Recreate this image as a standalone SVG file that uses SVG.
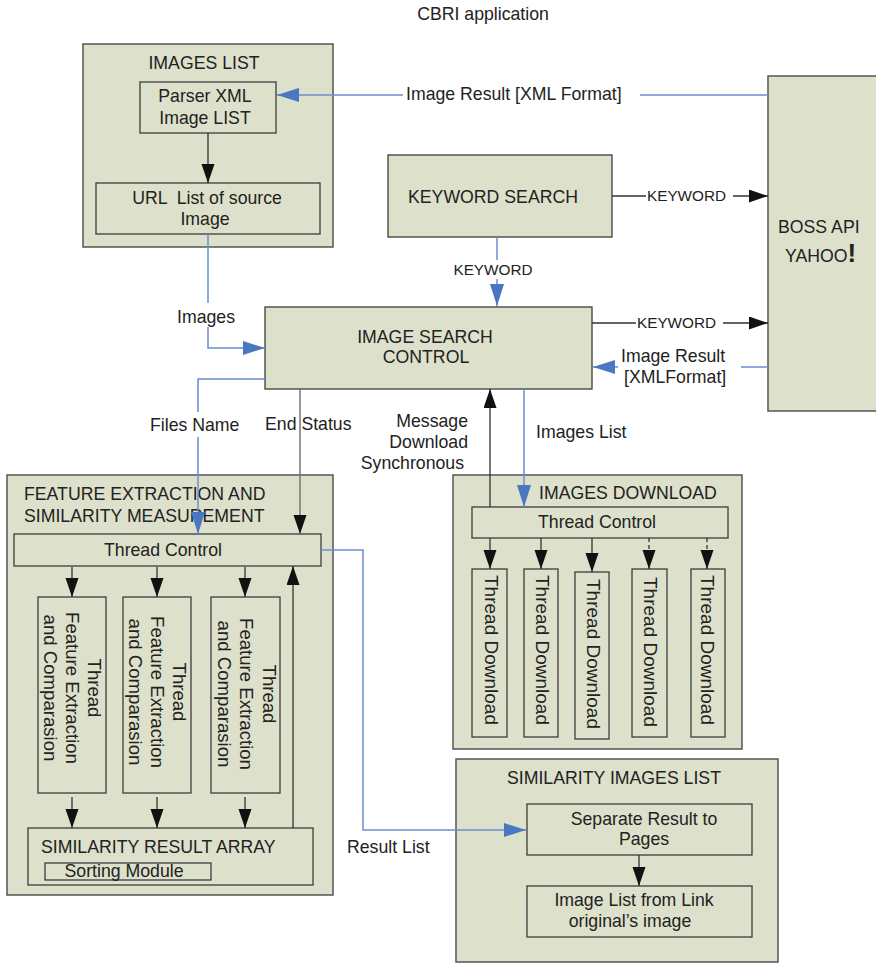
<svg xmlns="http://www.w3.org/2000/svg" width="876" height="964" viewBox="0 0 876 964">
<defs>
<style>
text{font-family:"Liberation Sans",Arial,Helvetica,sans-serif;fill:#222;font-size:17.7px}
.c{text-anchor:middle}
.s{font-size:15.3px}
.rot{font-size:18.6px;text-anchor:middle}
.box{fill:#dde0ca;stroke:#3c3c3c;stroke-width:1.3}
.outer{fill:#dde0ca;stroke:#555;stroke-width:1.5}
.k{fill:none;stroke:#333;stroke-width:1.3}
.g{fill:none;stroke:#777;stroke-width:1.5}
.b{fill:none;stroke:#6a8fd0;stroke-width:1.5}
.d{stroke-dasharray:4 3}
</style>
<marker id="ak" markerUnits="userSpaceOnUse" markerWidth="20" markerHeight="14" refX="19" refY="6.5" orient="auto">
<path d="M0,0 L19,6.5 L0,13 z" fill="#111"/>
</marker>
<marker id="ab" markerUnits="userSpaceOnUse" markerWidth="23" markerHeight="15" refX="22" refY="7" orient="auto">
<path d="M0,0 L22,7 L0,14 z" fill="#4a78c0"/>
</marker>
</defs>
<rect width="876" height="964" fill="#fff"/>
<text x="483" y="20" class="c">CBRI application</text>

<g id="images-list">
<rect class="outer" x="83" y="44" width="250" height="203"/>
<text x="204" y="69" class="c">IMAGES LIST</text>
</g>
<g id="parser-xml">
<rect class="box" x="140" y="82" width="136" height="51"/>
<text x="205" y="102" class="c">Parser XML</text>
<text x="205" y="124" class="c">Image LIST</text>
</g>
<g id="url-list">
<rect class="box" x="96" y="183" width="224" height="51"/>
<text x="207" y="204" class="c" xml:space="preserve">URL  List of source</text>
<text x="205" y="225" class="c">Image</text>
</g>

<g id="keyword-search">
<rect class="box" x="388" y="155" width="224" height="82"/>
<text x="408" y="203">KEYWORD SEARCH</text>
</g>

<g id="boss-api">
<rect class="outer" x="768" y="76" width="120" height="335"/>
<text x="778" y="233" font-size="18.5">BOSS API</text>
<text x="785" y="262" font-size="18">YAHOO<tspan font-size="26" font-weight="bold">!</tspan></text>
</g>

<g id="image-search-control">
<rect class="box" x="265" y="307" width="327" height="82"/>
<text x="425" y="343" class="c">IMAGE SEARCH</text>
<text x="426" y="363" class="c">CONTROL</text>
</g>

<g id="feature-extraction">
<rect class="outer" x="7" y="475" width="326" height="420"/>
<text x="24" y="500">FEATURE EXTRACTION AND</text>
<text x="24" y="522">SIMILARITY MEASUREMENT</text>
</g>
<g id="fe-thread-control">
<rect class="box" x="14" y="534" width="307" height="32"/>
<text x="163" y="556" class="c">Thread Control</text>
</g>
<g id="fe-thread-1">
<rect class="box" x="38" y="597" width="68" height="196"/>
<g transform="translate(72,688) rotate(90)">
<text x="0" y="-16" class="rot">Thread</text>
<text x="0" y="6" class="rot">Feature Extraction</text>
<text x="0" y="28" class="rot">and Comparasion</text>
</g>
</g>
<g id="fe-thread-2">
<rect class="box" x="123" y="597" width="68" height="196"/>
<g transform="translate(157,692) rotate(90)">
<text x="0" y="-16" class="rot">Thread</text>
<text x="0" y="6" class="rot">Feature Extraction</text>
<text x="0" y="28" class="rot">and Comparasion</text>
</g>
</g>
<g id="fe-thread-3">
<rect class="box" x="211" y="597" width="69" height="196"/>
<g transform="translate(246,694) rotate(90)">
<text x="0" y="-17" class="rot">Thread</text>
<text x="0" y="6" class="rot">Feature Extraction</text>
<text x="0" y="28" class="rot">and Comparasion</text>
</g>
</g>
<g id="similarity-result-array">
<rect class="box" x="28" y="828" width="285" height="57"/>
<text x="41" y="853">SIMILARITY RESULT ARRAY</text>
</g>
<g id="sorting-module">
<rect class="box" x="45" y="863" width="166" height="17"/>
<text x="124" y="877" class="c">Sorting Module</text>
</g>

<g id="images-download">
<rect class="outer" x="453" y="475" width="289" height="274"/>
<text x="539" y="499">IMAGES DOWNLOAD</text>
</g>
<g id="dl-thread-control">
<rect class="box" x="472" y="507" width="256" height="31"/>
<text x="597" y="528" class="c">Thread Control</text>
</g>
<g id="dl-thread-1">
<rect class="box" x="472" y="569" width="35" height="168"/>
<text transform="translate(489.5,650) rotate(90)" x="0" y="4.5" class="rot" textLength="150" lengthAdjust="spacingAndGlyphs">Thread Download</text>
</g>
<g id="dl-thread-2">
<rect class="box" x="524" y="569" width="34" height="168"/>
<text transform="translate(541,650) rotate(90)" x="0" y="5" class="rot" textLength="150" lengthAdjust="spacingAndGlyphs">Thread Download</text>
</g>
<g id="dl-thread-3">
<rect class="box" x="575" y="572" width="34" height="167"/>
<text transform="translate(592,654) rotate(90)" x="0" y="5" class="rot" textLength="150" lengthAdjust="spacingAndGlyphs">Thread Download</text>
</g>
<g id="dl-thread-4">
<rect class="box" x="632" y="569" width="35" height="168"/>
<text transform="translate(649.5,652) rotate(90)" x="0" y="5.5" class="rot" textLength="150" lengthAdjust="spacingAndGlyphs">Thread Download</text>
</g>
<g id="dl-thread-5">
<rect class="box" x="691" y="569" width="34" height="168"/>
<text transform="translate(708,650) rotate(90)" x="0" y="7" class="rot" textLength="150" lengthAdjust="spacingAndGlyphs">Thread Download</text>
</g>

<g id="similarity-images-list">
<rect class="outer" x="456" y="759" width="322" height="203"/>
<text x="507" y="784">SIMILARITY IMAGES LIST</text>
</g>
<g id="separate-result">
<rect class="box" x="527" y="804" width="225" height="51"/>
<text x="644" y="825" class="c">Separate Result to</text>
<text x="644" y="845" class="c">Pages</text>
</g>
<g id="image-list-link">
<rect class="box" x="527" y="886" width="225" height="51"/>
<text x="634" y="906" class="c">Image List from Link</text>
<text x="630" y="927" class="c">original’s image</text>
</g>

<g id="connectors">
<!-- Images list internal -->
<line class="k" x1="208" y1="133" x2="208" y2="183" marker-end="url(#ak)"/>
<!-- Image Result XML top -->
<line class="b" x1="768" y1="95" x2="640" y2="95"/>
<line class="b" x1="403" y1="95" x2="277" y2="95" marker-end="url(#ab)"/>
<text x="406" y="100">Image Result [XML Format]</text>
<!-- KEYWORD search -> BOSS -->
<line class="k" x1="612" y1="196" x2="646" y2="196"/>
<line class="k" x1="733" y1="196" x2="768" y2="196" marker-end="url(#ak)"/>
<text x="647" y="201" class="s">KEYWORD</text>
<!-- KEYWORD search -> ISC -->
<line class="b" x1="497" y1="237" x2="497" y2="260"/>
<line class="b" x1="497" y1="279" x2="497" y2="306" marker-end="url(#ab)"/>
<text x="493" y="275" class="s c">KEYWORD</text>
<!-- ISC -> BOSS keyword -->
<line class="k" x1="592" y1="323" x2="636" y2="323"/>
<line class="k" x1="723" y1="323" x2="768" y2="323" marker-end="url(#ak)"/>
<text x="637" y="328" class="s">KEYWORD</text>
<!-- BOSS -> ISC image result -->
<line class="b" x1="768" y1="367" x2="741" y2="367"/>
<line class="b" x1="618" y1="367" x2="593" y2="367" marker-end="url(#ab)"/>
<text x="621" y="362">Image Result</text>
<text x="624" y="383">[XMLFormat]</text>
<!-- Images: URL list -> ISC -->
<polyline class="b" points="208,234 208,303"/>
<polyline class="b" points="208,327 208,348 265,348" marker-end="url(#ab)"/>
<text x="177" y="323">Images</text>
<!-- Files Name -->
<polyline class="b" points="265,379 198,379 198,412"/>
<line class="b" x1="198" y1="437" x2="198" y2="534" marker-end="url(#ab)"/>
<text x="150" y="431">Files Name</text>
<!-- End Status -->
<line class="g" x1="300" y1="389" x2="300" y2="534" marker-end="url(#ak)"/>
<text x="265" y="430">End Status</text>
<!-- Message download synchronous -->
<line class="k" x1="490" y1="507" x2="490" y2="389" marker-end="url(#ak)"/>
<text x="468" y="427" text-anchor="end">Message</text>
<text x="468" y="448" text-anchor="end">Download</text>
<text x="464" y="469" text-anchor="end">Synchronous</text>
<!-- Images List -->
<line class="b" x1="524" y1="389" x2="524" y2="507" marker-end="url(#ab)"/>
<text x="536" y="438">Images List</text>
<!-- Download thread arrows -->
<line class="k" x1="490" y1="538" x2="490" y2="569" marker-end="url(#ak)"/>
<line class="k" x1="541" y1="538" x2="541" y2="569" marker-end="url(#ak)"/>
<line class="k" x1="592" y1="538" x2="592" y2="572" marker-end="url(#ak)"/>
<line class="k d" x1="649" y1="538" x2="649" y2="569" marker-end="url(#ak)"/>
<line class="k d" x1="707" y1="538" x2="707" y2="569" marker-end="url(#ak)"/>
<!-- Feature thread arrows -->
<line class="k" x1="72" y1="567" x2="72" y2="597" marker-end="url(#ak)"/>
<line class="k" x1="157" y1="567" x2="157" y2="597" marker-end="url(#ak)"/>
<line class="k" x1="245" y1="567" x2="245" y2="597" marker-end="url(#ak)"/>
<line class="k" x1="72" y1="797" x2="72" y2="828" marker-end="url(#ak)"/>
<line class="k" x1="157" y1="797" x2="157" y2="828" marker-end="url(#ak)"/>
<line class="k" x1="245" y1="797" x2="245" y2="828" marker-end="url(#ak)"/>
<line class="k" x1="293" y1="828" x2="293" y2="566" marker-end="url(#ak)"/>
<!-- Result List -->
<polyline class="b" points="321,550 363,550 363,830 526,830" marker-end="url(#ab)"/>
<text x="347" y="853">Result List</text>
<!-- Separate -> Image list -->
<line class="k" x1="639" y1="855" x2="639" y2="886" marker-end="url(#ak)"/>
</g>
</svg>
